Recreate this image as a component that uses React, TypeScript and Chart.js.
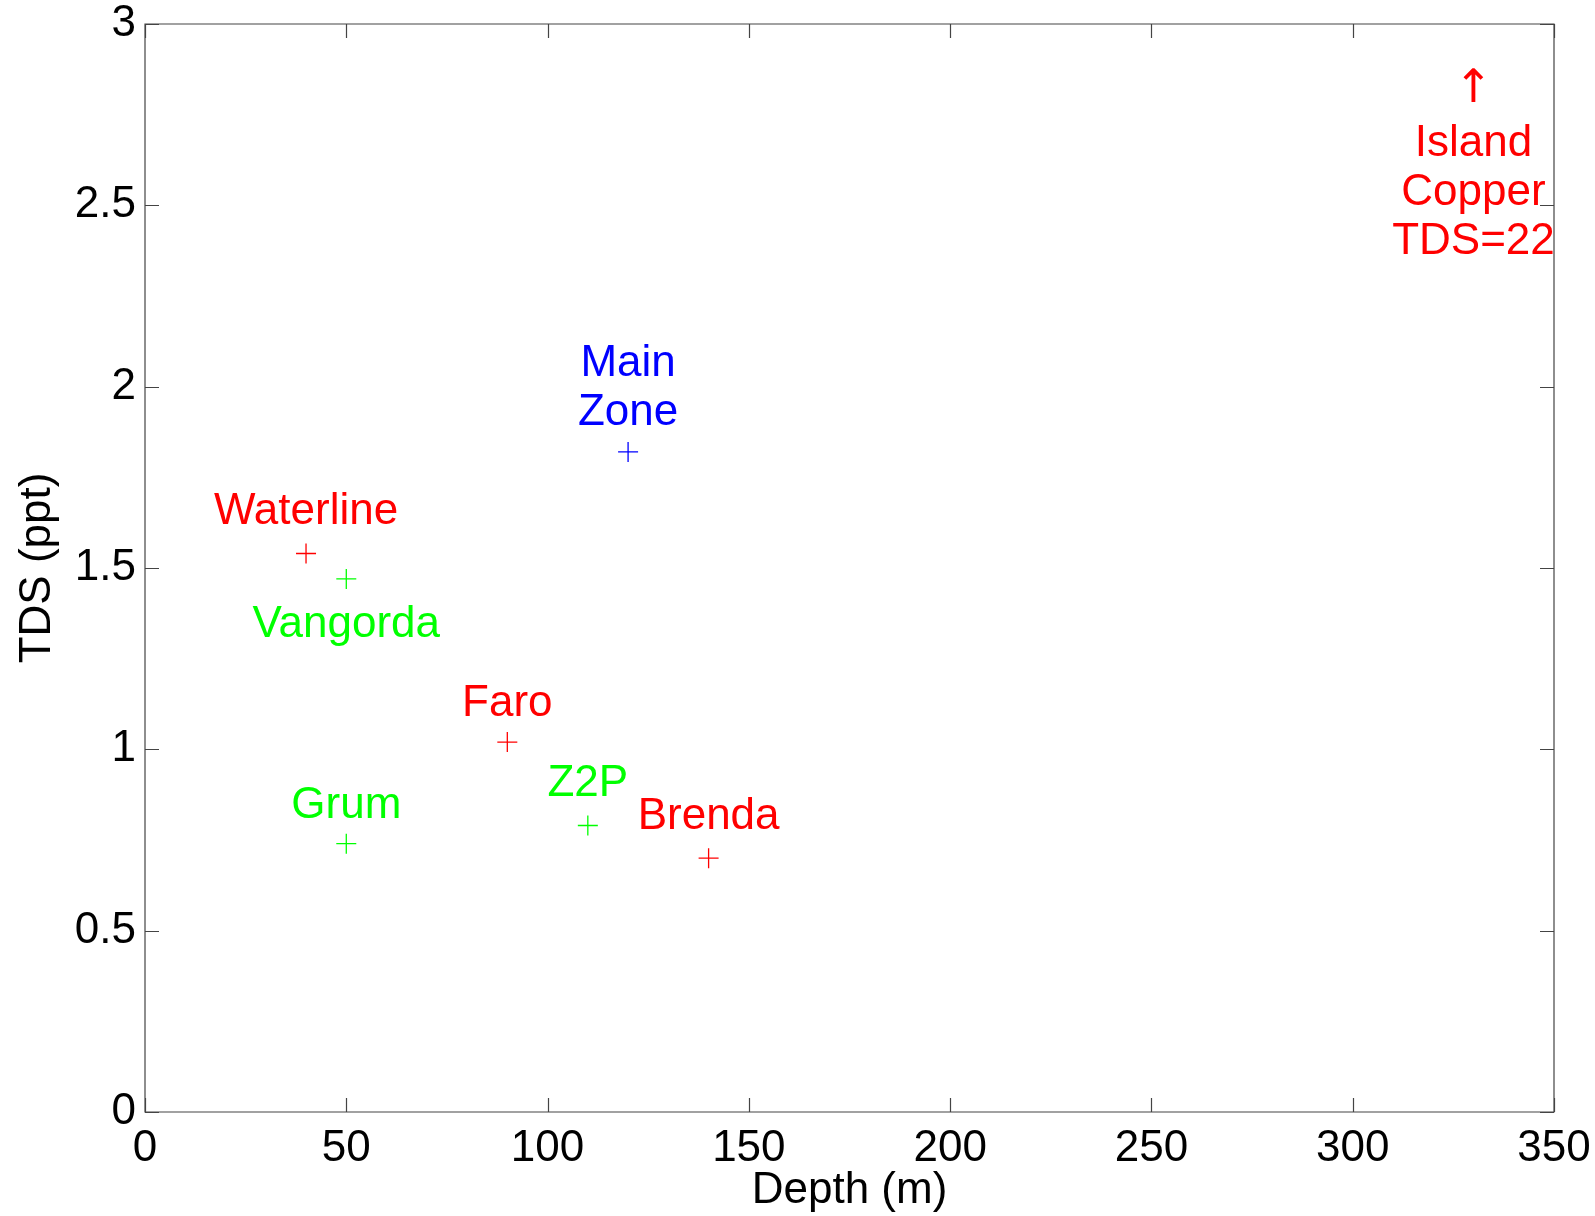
import React, { useEffect, useRef } from 'react';
import { Chart, registerables } from 'chart.js';

Chart.register(...registerables);

// Mine sites: depth (m) vs TDS (ppt)
const siteNames = ['Waterline', 'Vangorda', 'Main Zone', 'Faro', 'Z2P', 'Grum', 'Brenda'];
const depth = [40, 50, 120, 90, 110, 50, 140];
const tds = [1.54, 1.47, 1.82, 1.02, 0.79, 0.74, 0.70];
const siteColors = ['#ff0000', '#00ff00', '#0000ff', '#ff0000', '#00ff00', '#00ff00', '#ff0000'];

// Text annotations (data coordinates)
const labelText = [
  ['Waterline'],
  ['Vangorda'],
  ['Main', 'Zone'],
  ['Faro'],
  ['Z2P'],
  ['Grum'],
  ['Brenda'],
  ['\u2191'],
  ['Island', 'Copper', 'TDS=22'],
];
const labelX = [40, 50, 120, 90, 110, 50, 140, 330, 330];
const labelY = [1.66, 1.35, 2.0, 1.13, 0.91, 0.85, 0.82, 2.83, 2.54];
const labelColors = ['#ff0000', '#00ff00', '#0000ff', '#ff0000', '#00ff00', '#00ff00', '#ff0000', '#ff0000', '#ff0000'];

const xTicks = [0, 50, 100, 150, 200, 250, 300, 350];
const yTicks = [0, 0.5, 1, 1.5, 2, 2.5, 3];

const FONT = '"Liberation Sans", Arial, sans-serif';
const ARROW_FONT = '"DejaVu Sans", sans-serif';
const FONT_SIZE = 44;

const framePlugin = {
  id: 'matlabFrame',
  afterDatasetsDraw(chart: any) {
    const { ctx, chartArea, scales } = chart;
    const { left, right, top, bottom } = chartArea;
    const xs = scales.x;
    const ys = scales.y;
    const tl = 14;
    ctx.save();
    ctx.strokeStyle = '#444444';
    ctx.lineWidth = 1.2;
    ctx.beginPath();
    ctx.rect(left, top, right - left, bottom - top);
    xTicks.forEach((t) => {
      const px = Math.round(xs.getPixelForValue(t)) + 0.5;
      ctx.moveTo(px, bottom);
      ctx.lineTo(px, bottom - tl);
      ctx.moveTo(px, top);
      ctx.lineTo(px, top + tl);
    });
    yTicks.forEach((t) => {
      const py = Math.round(ys.getPixelForValue(t)) + 0.5;
      ctx.moveTo(left, py);
      ctx.lineTo(left + tl, py);
      ctx.moveTo(right, py);
      ctx.lineTo(right - tl, py);
    });
    ctx.stroke();

    ctx.textAlign = 'center';
    ctx.textBaseline = 'middle';
    const lh = 49;
    labelText.forEach((lines, i) => {
      const cx = xs.getPixelForValue(labelX[i]);
      const cy = ys.getPixelForValue(labelY[i]) + 2;
      ctx.fillStyle = labelColors[i];
      const isArrow = lines[0] === '\u2191';
      ctx.font = isArrow ? `46px ${ARROW_FONT}` : `${FONT_SIZE}px ${FONT}`;
      const n = lines.length;
      lines.forEach((s, j) => {
        ctx.fillText(s, cx, cy + (isArrow ? 2 : 0) + (j - (n - 1) / 2) * lh);
      });
    });
    ctx.restore();
  },
};

export default function App() {
  const ref = useRef<HTMLCanvasElement | null>(null);

  useEffect(() => {
    if (!ref.current) return;
    const chart = new Chart(ref.current, {
      type: 'scatter',
      data: {
        datasets: [
          {
            label: 'Sites',
            data: depth.map((d, i) => ({ x: d, y: tds[i] })),
            pointStyle: 'cross',
            pointRadius: 10,
            pointHoverRadius: 10,
            pointBorderWidth: 1.3,
            pointBorderColor: siteColors,
            pointBackgroundColor: siteColors,
            showLine: false,
          },
        ],
      },
      options: {
        animation: false,
        responsive: false,
        devicePixelRatio: 1,
        events: [],
        layout: { padding: { top: 24, right: 41, left: 0, bottom: 0 } },
        plugins: {
          legend: { display: false },
          tooltip: { enabled: false },
          title: { display: false },
        },
        scales: {
          x: {
            type: 'linear',
            min: 0,
            max: 350,
            afterBuildTicks: (s: any) => {
              s.ticks = xTicks.map((v) => ({ value: v }));
            },
            afterFit: (s: any) => {
              s.height = 104;
              s.paddingLeft = 0;
              s.paddingRight = 0;
            },
            grid: { display: false, drawTicks: false, tickLength: 0 },
            border: { display: false },
            ticks: {
              color: '#000',
              padding: 10,
              maxRotation: 0,
              autoSkip: false,
              font: { family: FONT, size: FONT_SIZE },
              callback: (v: any) => String(v),
            },
            title: {
              display: true,
              text: 'Depth (m)',
              color: '#000',
              font: { family: FONT, size: FONT_SIZE, lineHeight: 1.15 },
              padding: { top: 0, bottom: 0 },
            },
          },
          y: {
            type: 'linear',
            min: 0,
            max: 3,
            afterBuildTicks: (s: any) => {
              s.ticks = yTicks.map((v) => ({ value: v }));
            },
            afterFit: (s: any) => {
              s.width = 145;
              s.paddingTop = 0;
              s.paddingBottom = 0;
            },
            grid: { display: false, drawTicks: false, tickLength: 0 },
            border: { display: false },
            ticks: {
              color: '#000',
              padding: 9,
              autoSkip: false,
              font: { family: FONT, size: FONT_SIZE },
              callback: (v: any) => String(v),
            },
            title: {
              display: true,
              text: 'TDS (ppt)',
              color: '#000',
              font: { family: FONT, size: FONT_SIZE, lineHeight: 1.15 },
              padding: { top: 13, bottom: 0 },
            },
          },
        },
      },
      plugins: [framePlugin],
    });
    return () => chart.destroy();
  }, []);

  return (
    <div style={{ position: 'absolute', left: 0, top: 0, width: 1595, height: 1216, background: '#fff' }}>
      <canvas ref={ref} width={1595} height={1216} style={{ display: 'block' }} />
    </div>
  );
}
